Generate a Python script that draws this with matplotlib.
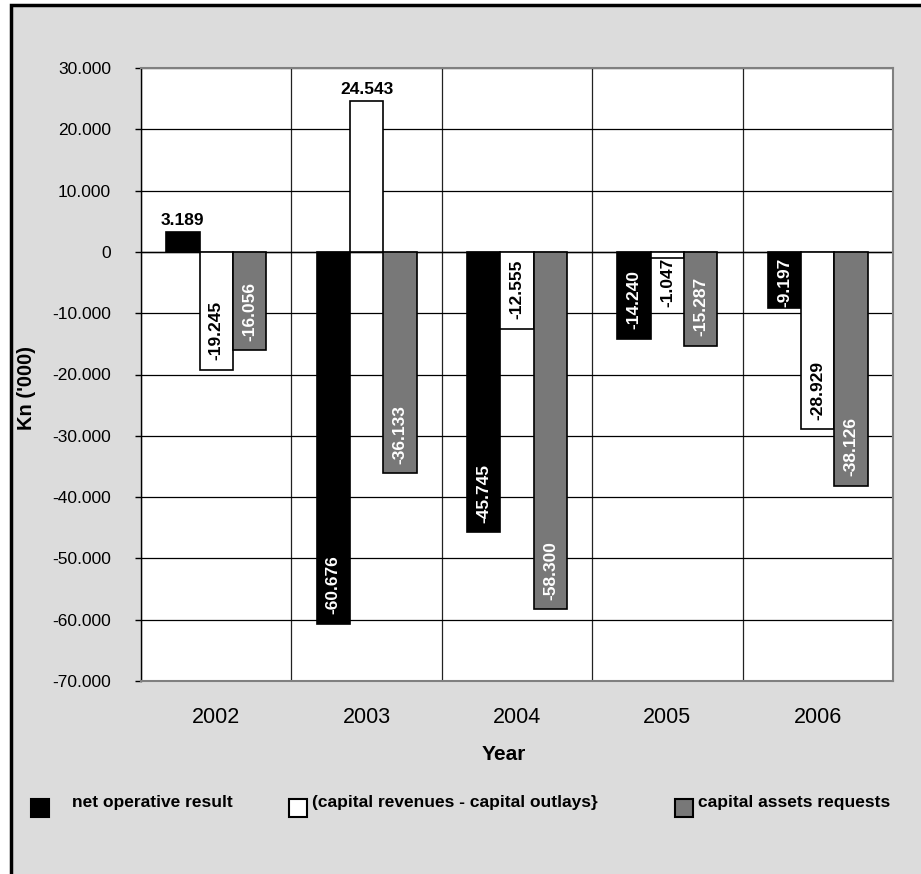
import matplotlib
matplotlib.use('Agg')
import matplotlib.pyplot as plt
from matplotlib.patches import Rectangle
from matplotlib.ticker import FixedLocator, FuncFormatter

plt.rcParams['font.family'] = ['Liberation Sans', 'DejaVu Sans']

years = ['2002', '2003', '2004', '2005', '2006']
net_operative = [3189, -60676, -45745, -14240, -9197]
capital_balance = [-19245, 24543, -12555, -1047, -28929]
capital_assets = [-16056, -36133, -58300, -15287, -38126]
series_names = ['net operative result',
                '(capital revenues - capital outlays}',
                'capital assets requests']
series_values = [net_operative, capital_balance, capital_assets]

fills = ['#000000', '#ffffff', '#787878']
label_colors = ['white', 'black', 'white']
BAR_W = 0.222
FONT = 12.5

W, H = 921, 874


def fx(px):
    return px / W


def fy(py):
    return 1 - py / H


def thousands(v):
    return f"{v:,.0f}".replace(',', '.')


fig = plt.figure(figsize=(W / 100, H / 100), dpi=100, facecolor='white')

# grey chart area with black frame on the left and top
fig.add_artist(Rectangle((fx(11), fy(1000)), fx(1100), fy(5) - fy(1000),
                         transform=fig.transFigure, facecolor='#dcdcdc',
                         edgecolor='black', lw=2.5, zorder=0))

ax = fig.add_axes([fx(141), fy(681), fx(893) - fx(141), fy(68) - fy(681)])
ax.set_facecolor('white')
ax.set_axisbelow(True)

x = list(range(len(years)))
for i, (name, vals) in enumerate(zip(series_names, series_values)):
    pos = [xi + (i - 1) * BAR_W for xi in x]
    ax.bar(pos, vals, width=BAR_W, color=fills[i], edgecolor='black',
           lw=1.2, zorder=3)
    for p, v in zip(pos, vals):
        txt = thousands(v)
        if v >= 0:
            ax.annotate(txt, (p, v), xytext=(0, 3), textcoords='offset points',
                        ha='center', va='bottom', fontsize=FONT,
                        fontweight='bold', color='black', zorder=5)
        elif v > -12000:
            # short bars: label hangs from the zero line
            ax.annotate(txt, (p, 0), xytext=(0, -4), textcoords='offset points',
                        ha='center', va='top', rotation=90, fontsize=FONT,
                        fontweight='bold', color=label_colors[i], zorder=5)
        else:
            ax.annotate(txt, (p, v), xytext=(0, 7), textcoords='offset points',
                        ha='center', va='bottom', rotation=90, fontsize=FONT,
                        fontweight='bold', color=label_colors[i], zorder=5)

ax.set_xlim(-0.5, len(years) - 0.5)
ax.set_ylim(-70000, 30000)
ax.set_xticks(x)
ax.set_xticklabels(years, fontsize=15.5)
ax.xaxis.set_minor_locator(FixedLocator([k - 0.5 for k in range(len(years) + 1)]))
ax.tick_params(axis='x', which='both', length=0, pad=19)
ax.set_yticks(range(-70000, 30001, 10000))
ax.yaxis.set_major_formatter(FuncFormatter(lambda v, _: thousands(v)))
ax.tick_params(axis='y', length=4.5, width=1, color='black', pad=17,
               labelsize=FONT)

ax.grid(axis='y', which='major', color='black', lw=0.9)
ax.grid(axis='x', which='minor', color='#222222', lw=0.9)
ax.axhline(0, color='black', lw=1, zorder=2)

for side in ['top', 'right', 'bottom']:
    ax.spines[side].set_color('#808080')
    ax.spines[side].set_linewidth(1.5)
ax.spines['left'].set_color('black')
ax.spines['left'].set_linewidth(1)

ax.text((27 - 141) / 752, (681 - 388) / 613, "Kn ('000)", transform=ax.transAxes,
        rotation=90, ha='center', va='center', fontsize=14.5, fontweight='bold')
ax.text((504 - 141) / 752, (681 - 755) / 613, 'Year', transform=ax.transAxes,
        ha='center', va='center', fontsize=15, fontweight='bold')

# legend along the bottom
square_x = [31, 289, 675]
text_x = [72, 312, 698]
for i, name in enumerate(series_names):
    fig.add_artist(Rectangle((fx(square_x[i]), fy(817)), fx(18), fy(799) - fy(817),
                             transform=fig.transFigure, facecolor=fills[i],
                             edgecolor='black', lw=1.5))
    fig.text(fx(text_x[i]), fy(803), name, ha='left', va='center',
             fontsize=FONT, fontweight='bold')

fig.savefig('out.png', dpi=100, facecolor=fig.get_facecolor())
